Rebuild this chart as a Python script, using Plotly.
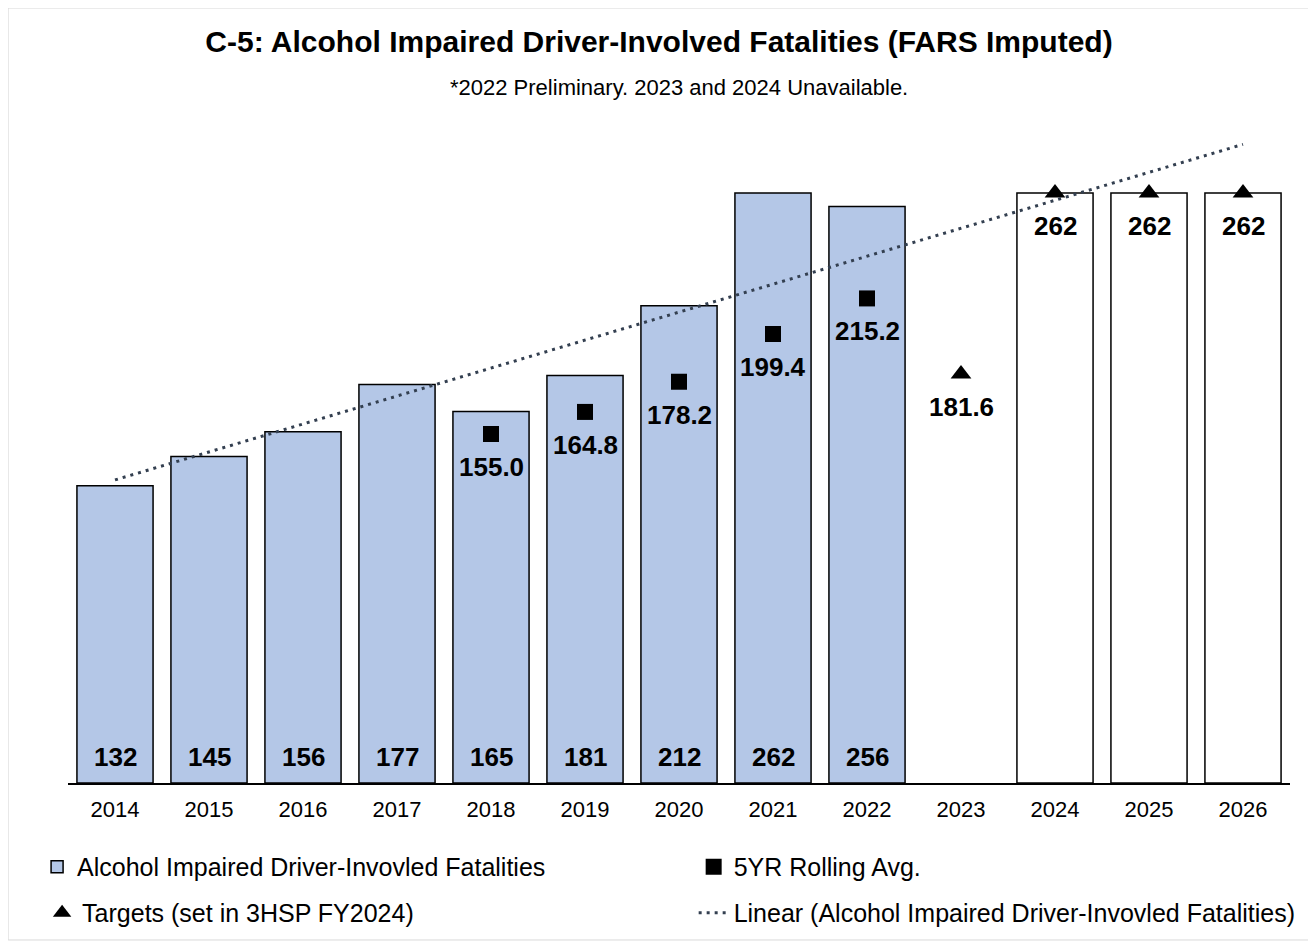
import numpy as np
import plotly.graph_objects as go

years = ["2014", "2015", "2016", "2017", "2018", "2019", "2020",
         "2021", "2022", "2023", "2024", "2025", "2026"]

# observed fatalities (2014-2022)
fatal_years = years[:9]
fatalities = [132, 145, 156, 177, 165, 181, 212, 262, 256]

# 5 year rolling average
avg_years = ["2018", "2019", "2020", "2021", "2022"]
rolling_avg = [155.0, 164.8, 178.2, 199.4, 215.2]

# targets
target_years = ["2023", "2024", "2025", "2026"]
targets = [181.6, 262, 262, 262]

# target bars drawn white (part of the same bar series in the source)
target_bar_years = ["2024", "2025", "2026"]
target_bars = [262, 262, 262]

BLUE = "#B4C7E7"
FONT = "Liberation Sans, Arial, sans-serif"
LABEL_FONT = dict(family=FONT, size=26, color="black", weight="bold")

# linear trend fitted over every bar of the series
idx = {y: i for i, y in enumerate(years)}
fx = [idx[y] for y in fatal_years + target_bar_years]
fy = fatalities + target_bars
slope, icpt = np.polyfit(fx, fy, 1)
trend_y = [icpt + slope * idx[y] for y in (years[0], years[-1])]

fig = go.Figure()

fig.add_trace(go.Bar(
    x=fatal_years, y=fatalities,
    name="Alcohol Impaired Driver-Invovled Fatalities",
    marker=dict(color=BLUE, line=dict(color="black", width=1.5)),
    legend="legend",
))

fig.add_trace(go.Bar(
    x=target_bar_years, y=target_bars,
    name="target bars", showlegend=False,
    marker=dict(color="white", line=dict(color="black", width=1.5)),
    hoverinfo="skip",
))

fig.add_trace(go.Scatter(
    x=avg_years, y=rolling_avg,
    name="5YR Rolling Avg.",
    mode="markers",
    marker=dict(symbol="square", size=16, color="black"),
    legend="legend2",
))

fig.add_trace(go.Scatter(
    x=target_years, y=targets,
    name="Targets (set in 3HSP FY2024)",
    mode="markers",
    marker=dict(symbol="triangle-up", size=18, color="black"),
    legend="legend3",
))

fig.add_trace(go.Scatter(
    x=[years[0], years[-1]], y=trend_y,
    name="Linear (Alcohol Impaired Driver-Invovled Fatalities)",
    mode="lines",
    line=dict(color="#333F50", width=3, dash="3px,5px"),
    legend="legend4",
))

# value labels at the base of each fatality bar (category index on x)
bar_labels = [dict(
    x=idx[yr], y=0, xref="x", yref="y", text=f"<b>{v}</b>",
    showarrow=False, yanchor="bottom", yshift=9,
    font=LABEL_FONT,
) for yr, v in zip(fatal_years, fatalities)]

# labels hanging under the rolling-average and target markers
marker_labels = [dict(
    x=idx[yr], y=v, xref="x", yref="y", text=f"<b>{v:.1f}</b>",
    showarrow=False, yanchor="top", yshift=-16,
    font=LABEL_FONT,
) for yr, v in zip(avg_years, rolling_avg)]
marker_labels += [dict(
    x=idx[yr], y=v, xref="x", yref="y", text=f"<b>{v:g}</b>",
    showarrow=False, yanchor="top", yshift=-16,
    font=LABEL_FONT,
) for yr, v in zip(target_years, targets)]

subtitle = dict(
    text="*2022 Preliminary. 2023 and 2024 Unavailable.",
    xref="paper", yref="paper", x=0.5, y=1.0658,
    xanchor="center", yanchor="middle", showarrow=False,
    font=dict(family=FONT, size=22, color="black"),
)

LEG = dict(orientation="h", xanchor="left", yanchor="middle",
           font=dict(family=FONT, size=25, color="black"),
           bgcolor="rgba(0,0,0,0)")

W, H = 1302, 933

fig.update_layout(
    width=W, height=H,
    margin=dict(l=60, r=20, t=122, b=158, autoexpand=False),
    paper_bgcolor="white", plot_bgcolor="white",
    barmode="overlay", bargap=0.19,
    font=dict(family=FONT, size=22, color="black"),
    showlegend=True,
    title=dict(
        text="<b>C-5: Alcohol Impaired Driver-Involved Fatalities (FARS Imputed)</b>",
        x=0.5, xanchor="center", y=1 - 33 / H, yanchor="middle",
        font=dict(family=FONT, size=30, color="black"),
    ),
    annotations=bar_labels + marker_labels + [subtitle],
    legend=dict(LEG, x=-0.0253, y=-0.1286),
    legend2=dict(LEG, x=0.512, y=-0.1286),
    legend3=dict(LEG, x=-0.0212, y=-0.199),
    legend4=dict(LEG, x=0.512, y=-0.199),
    shapes=[dict(
        type="rect", xref="paper", yref="paper",
        x0=-0.049, x1=1.0155, y0=-0.2404, y1=1.1868,
        line=dict(color="#D9D9D9", width=1), fillcolor="rgba(0,0,0,0)",
        layer="below",
    )],
)

fig.update_xaxes(
    type="category", categoryorder="array", categoryarray=years,
    range=[-0.5, len(years) - 0.5],
    showgrid=False, showline=True, linecolor="black", linewidth=1.5,
    ticks="", ticklabelstandoff=6,
    tickfont=dict(family=FONT, size=22, color="black"),
)
fig.update_yaxes(range=[0, 290], visible=False, showgrid=False)

fig.write_html("out.html")
